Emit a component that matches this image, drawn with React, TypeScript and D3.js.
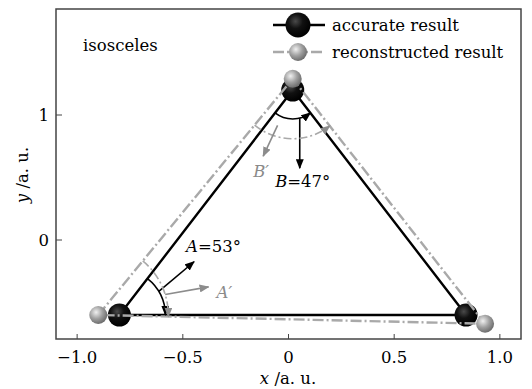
import React from 'react';
import * as d3 from 'd3';

const W = 532;
const H = 389;

// Axis ticks
const xTicks = [-1.0, -0.5, 0, 0.5, 1.0];
const yTicks = [0, 1];

// Triangle vertices (A, B, C)
const accurateX = [-0.8, 0.02, 0.84];
const accurateY = [-0.6, 1.2, -0.6];
const reconX = [-0.9, 0.02, 0.93];
const reconY = [-0.6, 1.29, -0.67];

const seriesNames = ['accurate result', 'reconstructed result'];
const angleNames = ['A', 'B'];
const angleValues = [53, 47];
const shapeLabel = 'isosceles';

const SERIF = '"DejaVu Serif", "Liberation Serif", serif';
const FS = 16.5;
const GREY = '#a9a9a9';
const GREY_TEXT = '#8a8a8a';
const DASH = '11 3 2 3';

const x = d3.scaleLinear().domain([-1.1, 1.1]).range([56, 521]);
const y = d3.scaleLinear().domain([-0.792, 1.848]).range([339, 9]);

type P = [number, number];

function pts(xs: number[], ys: number[]): P[] {
  return xs.map((v, i) => [x(v), y(ys[i])] as P);
}

function ang(from: P, to: P) {
  return Math.atan2(to[1] - from[1], to[0] - from[0]);
}

// Arc at a vertex, sweeping from the direction of one neighbour to the other
function vertexArc(c: P, r: number, a0: number, a1: number) {
  const p = d3.path();
  p.moveTo(c[0] + r * Math.cos(a0), c[1] + r * Math.sin(a0));
  p.arc(c[0], c[1], r, a0, a1, a1 < a0);
  return p.toString();
}

function polar(c: P, r: number, a: number): P {
  return [c[0] + r * Math.cos(a), c[1] + r * Math.sin(a)];
}

const deg = Math.PI / 180;

export default function App() {
  const acc = pts(accurateX, accurateY);
  const rec = pts(reconX, reconY);
  const line = d3.line<P>();
  const closed = (p: P[]) => line([...p, p[0]]) as string;

  const [A, B, C] = acc;
  const [A2, B2, C2] = rec;

  // Angle arcs
  const arcA = vertexArc(A, 46, ang(A, B), ang(A, C));
  const arcB = vertexArc(B, 29, ang(B, A), ang(B, C));
  const arcA2 = vertexArc(A2, 70, ang(A2, B2), ang(A2, C2));
  const arcB2 = vertexArc(B2, 60, ang(B2, A2), ang(B2, C2));

  // Pointer arrows from the arcs
  const aStart = polar(A, 46, -31 * deg);
  const aEnd = polar(aStart, 46, -40 * deg);
  const a2Start = polar(A2, 70, -17 * deg);
  const a2End = polar(a2Start, 44, -10 * deg);
  const bStart = polar(B, 29, 76 * deg);
  const bEnd: P = [bStart[0], bStart[1] + 50];
  const b2Start = polar(B2, 49, 108 * deg);
  const b2End = polar(b2Start, 34, 115 * deg);

  const [plotL, plotR] = x.range();
  const [plotB, plotT] = y.range();

  return (
    <svg
      width={W}
      height={H}
      viewBox={`0 0 ${W} ${H}`}
      style={{ position: 'absolute', left: 0, top: 0, background: '#fff' }}
      fontFamily={SERIF}
    >
      <defs>
        <radialGradient id="ballGrey" cx="38%" cy="35%" r="65%">
          <stop offset="0%" stopColor="#f0f0f0" />
          <stop offset="55%" stopColor="#a0a0a0" />
          <stop offset="100%" stopColor="#6e6e6e" />
        </radialGradient>
        <radialGradient id="ballBlack" cx="40%" cy="35%" r="65%">
          <stop offset="0%" stopColor="#4a4a4a" />
          <stop offset="45%" stopColor="#111" />
          <stop offset="100%" stopColor="#000" />
        </radialGradient>
        <marker id="headBlack" viewBox="0 0 10 8" refX="9" refY="4" markerWidth="10" markerHeight="8" markerUnits="userSpaceOnUse" orient="auto">
          <path d="M0,0 L10,4 L0,8 Z" fill="#000" />
        </marker>
        <marker id="headGrey" viewBox="0 0 10 8" refX="9" refY="4" markerWidth="10" markerHeight="8" markerUnits="userSpaceOnUse" orient="auto">
          <path d="M0,0 L10,4 L0,8 Z" fill="#8c8c8c" />
        </marker>
      </defs>

      {/* frame */}
      <rect x={plotL} y={plotT} width={plotR - plotL} height={plotB - plotT} fill="none" stroke="#444" strokeWidth={1.5} />

      {/* ticks */}
      {xTicks.map((t) => (
        <g key={`x${t}`}>
          <line x1={x(t)} x2={x(t)} y1={plotB} y2={plotB - 5} stroke="#444" strokeWidth={1} />
          <text x={x(t)} y={363} fontSize={FS} textAnchor="middle" fill="#000">
            {t === 0 ? '0' : t < 0 ? `\u2212${Math.abs(t).toFixed(1)}` : t.toFixed(1)}
          </text>
        </g>
      ))}
      {yTicks.map((t) => (
        <g key={`y${t}`}>
          <line x1={plotL} x2={plotL + 6} y1={y(t)} y2={y(t)} stroke="#444" strokeWidth={1} />
          <text x={49} y={y(t) + 6} fontSize={FS} textAnchor="end" fill="#000">
            {String(t)}
          </text>
        </g>
      ))}

      {/* axis titles */}
      <text x={288} y={384} fontSize={FS} textAnchor="middle" fill="#000">
        <tspan fontStyle="italic">x</tspan> /a. u.
      </text>
      <text transform="translate(28,175) rotate(-90)" fontSize={FS} textAnchor="middle" fill="#000">
        <tspan fontStyle="italic">y</tspan> /a. u.
      </text>

      <text x={83} y={51} fontSize={FS} fill="#000">{shapeLabel}</text>

      {/* accurate triangle */}
      <path d={closed(acc)} fill="none" stroke="#000" strokeWidth={2.4} strokeLinejoin="round" />
      {acc.map((p, i) => (
        <circle key={`a${i}`} cx={p[0]} cy={p[1]} r={11.5} fill="url(#ballBlack)" />
      ))}

      {/* reconstructed triangle */}
      <path d={closed(rec)} fill="none" stroke={GREY} strokeWidth={2.4} strokeDasharray={DASH} />
      {rec.map((p, i) => (
        <circle key={`r${i}`} cx={p[0]} cy={p[1]} r={9} fill="url(#ballGrey)" />
      ))}

      {/* angle annotations: accurate */}
      <path d={arcA} fill="none" stroke="#000" strokeWidth={1.6} markerEnd="url(#headBlack)" />
      <path d={arcB} fill="none" stroke="#000" strokeWidth={1.6} markerEnd="url(#headBlack)" />
      <line x1={aStart[0]} y1={aStart[1]} x2={aEnd[0]} y2={aEnd[1]} stroke="#000" strokeWidth={1.6} markerEnd="url(#headBlack)" />
      <line x1={bStart[0]} y1={bStart[1]} x2={bEnd[0]} y2={bEnd[1]} stroke="#000" strokeWidth={1.6} markerEnd="url(#headBlack)" />
      <text x={aEnd[0] - 8} y={aEnd[1] - 10} fontSize={FS} fill="#000">
        <tspan fontStyle="italic">{angleNames[0]}</tspan>={angleValues[0]}°
      </text>
      <text x={bEnd[0] + 3} y={bEnd[1] + 19} fontSize={FS} textAnchor="middle" fill="#000">
        <tspan fontStyle="italic">{angleNames[1]}</tspan>={angleValues[1]}°
      </text>

      {/* angle annotations: reconstructed */}
      <path d={arcA2} fill="none" stroke={GREY} strokeWidth={1.6} strokeDasharray="8 3 2 3" markerEnd="url(#headGrey)" />
      <path d={arcB2} fill="none" stroke={GREY} strokeWidth={1.6} strokeDasharray="8 3 2 3" markerEnd="url(#headGrey)" />
      <line x1={a2Start[0]} y1={a2Start[1]} x2={a2End[0]} y2={a2End[1]} stroke="#8c8c8c" strokeWidth={1.6} markerEnd="url(#headGrey)" />
      <line x1={b2Start[0]} y1={b2Start[1]} x2={b2End[0]} y2={b2End[1]} stroke="#8c8c8c" strokeWidth={1.6} markerEnd="url(#headGrey)" />
      <text x={a2End[0] + 8} y={a2End[1] + 11} fontSize={FS} fontStyle="italic" fill={GREY_TEXT}>
        {angleNames[0]}′
      </text>
      <text x={b2End[0] - 10} y={b2End[1] + 21} fontSize={FS} fontStyle="italic" fill={GREY_TEXT}>
        {angleNames[1]}′
      </text>

      {/* legend */}
      <g>
        <line x1={273} x2={325} y1={25} y2={25} stroke="#000" strokeWidth={2.4} />
        <circle cx={298} cy={25} r={12.5} fill="url(#ballBlack)" />
        <text x={332} y={31} fontSize={FS} fill="#000">{seriesNames[0]}</text>
        <line x1={273} x2={325} y1={52} y2={52} stroke={GREY} strokeWidth={2.4} strokeDasharray={DASH} />
        <circle cx={298} cy={52} r={9} fill="url(#ballGrey)" />
        <text x={332} y={58} fontSize={FS} fill="#000">{seriesNames[1]}</text>
      </g>
    </svg>
  );
}
